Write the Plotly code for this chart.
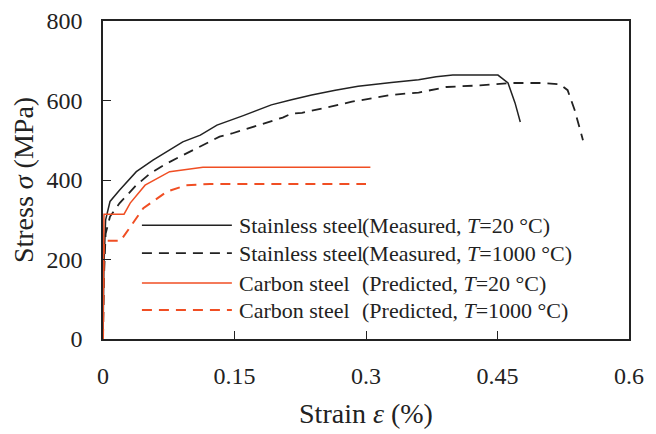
import plotly.graph_objects as go

# ---- data (strain in %, stress in MPa) ----
ss20_x = [0, 0.001, 0.003, 0.008, 0.019, 0.038, 0.057, 0.076, 0.091, 0.111, 0.130, 0.16, 0.192,
          0.215, 0.238, 0.265, 0.291, 0.329, 0.36, 0.38, 0.399, 0.43, 0.4505, 0.462, 0.470, 0.476]
ss20_y = [0, 180, 300, 346, 375, 421, 450, 475, 496, 513, 538, 562, 589,
          602, 614, 626, 636, 645, 652, 660, 664, 664, 664, 644, 594, 546]

ss1000_x = [0, 0.001, 0.003, 0.008, 0.019, 0.038, 0.054, 0.073, 0.088, 0.111, 0.133, 0.147, 0.17,
            0.19, 0.205, 0.215, 0.227, 0.25, 0.284, 0.329, 0.36, 0.392, 0.43, 0.464, 0.50, 0.521,
            0.530, 0.538, 0.5475]
ss1000_y = [0, 150, 265, 308, 342, 387, 417, 442, 459, 484, 509, 517, 533,
            547, 557, 567, 569, 580, 597, 614, 620, 634, 638, 644, 644, 641,
            626, 576, 500]

cs20_x = [0, 0.0011, 0.024, 0.031, 0.048, 0.076, 0.114, 0.305]
cs20_y = [0, 314, 314, 342, 387, 421, 432, 432]

cs1000_x = [0, 0.001, 0.020, 0.034, 0.046, 0.073, 0.095, 0.122, 0.30]
cs1000_y = [0, 247, 247, 291, 329, 371, 387, 390, 390]

legend_names = ["Stainless steel", "Stainless steel", "Carbon steel", "Carbon steel"]
legend_notes = ["(Measured, <i>T</i>=20 °C)", "(Measured, <i>T</i>=1000 °C)",
                "(Predicted, <i>T</i>=20 °C)", "(Predicted, <i>T</i>=1000 °C)"]

x_ticks = [0, 0.15, 0.3, 0.45, 0.6]
x_ticktext = ["0", "0.15", "0.3", "0.45", "0.6"]
y_ticks = [0, 200, 400, 600, 800]

BLACK = "#222222"
RED = "#f04e23"
FONT = "Liberation Serif"

styles = [
    dict(color=BLACK, width=1.5, dash="solid"),
    dict(color=BLACK, width=1.8, dash="10px,7px"),
    dict(color=RED, width=1.5, dash="solid"),
    dict(color=RED, width=2.0, dash="10px,7px"),
]
series = [(ss20_x, ss20_y), (ss1000_x, ss1000_y), (cs20_x, cs20_y), (cs1000_x, cs1000_y)]

fig = go.Figure()
for (xs, ys), st, nm, nt in zip(series, styles, legend_names, legend_notes):
    fig.add_trace(go.Scatter(x=xs, y=ys, mode="lines", line=st, name=nm + nt, showlegend=False))

# manual legend
leg_y = [0.358, 0.270, 0.176, 0.091]
for st, yy, nm, nt in zip(styles, leg_y, legend_names, legend_notes):
    fig.add_shape(type="line", xref="paper", yref="paper", x0=0.074, x1=0.245, y0=yy, y1=yy,
                  line=dict(color=st["color"], width=st["width"], dash=st["dash"]))
    fig.add_annotation(xref="paper", yref="paper", x=0.254, y=yy, text=nm, showarrow=False,
                       xanchor="left", yanchor="middle", font=dict(family=FONT, size=22, color="#222"))
    fig.add_annotation(xref="paper", yref="paper", x=0.488, y=yy, text=nt, showarrow=False,
                       xanchor="left", yanchor="middle", font=dict(family=FONT, size=22, color="#222"))

axis_common = dict(showline=True, linecolor="#222", linewidth=1.5, mirror=True, showgrid=False,
                   zeroline=False, ticks="inside", ticklen=8, tickwidth=1.2, tickcolor="#222",
                   automargin=False,
                   tickfont=dict(family=FONT, size=24, color="#222"))

fig.update_xaxes(range=[0, 0.6], tickvals=x_ticks, ticktext=x_ticktext, ticklabelstandoff=14,
                 title=dict(text="Strain <i>ε</i> (%)", font=dict(family=FONT, size=28, color="#222"),
                            standoff=16),
                 **axis_common)
fig.update_yaxes(range=[0, 800], tickvals=y_ticks, ticklabelstandoff=14,
                 title=dict(text="Stress <i>σ</i> (MPa)", font=dict(family=FONT, size=28, color="#222"),
                            standoff=8),
                 **axis_common)

fig.update_layout(width=648, height=426, margin=dict(l=95, r=27, t=13, b=95, autoexpand=False),
                  plot_bgcolor="white", paper_bgcolor="white", showlegend=False)

fig.write_html("out.html")
